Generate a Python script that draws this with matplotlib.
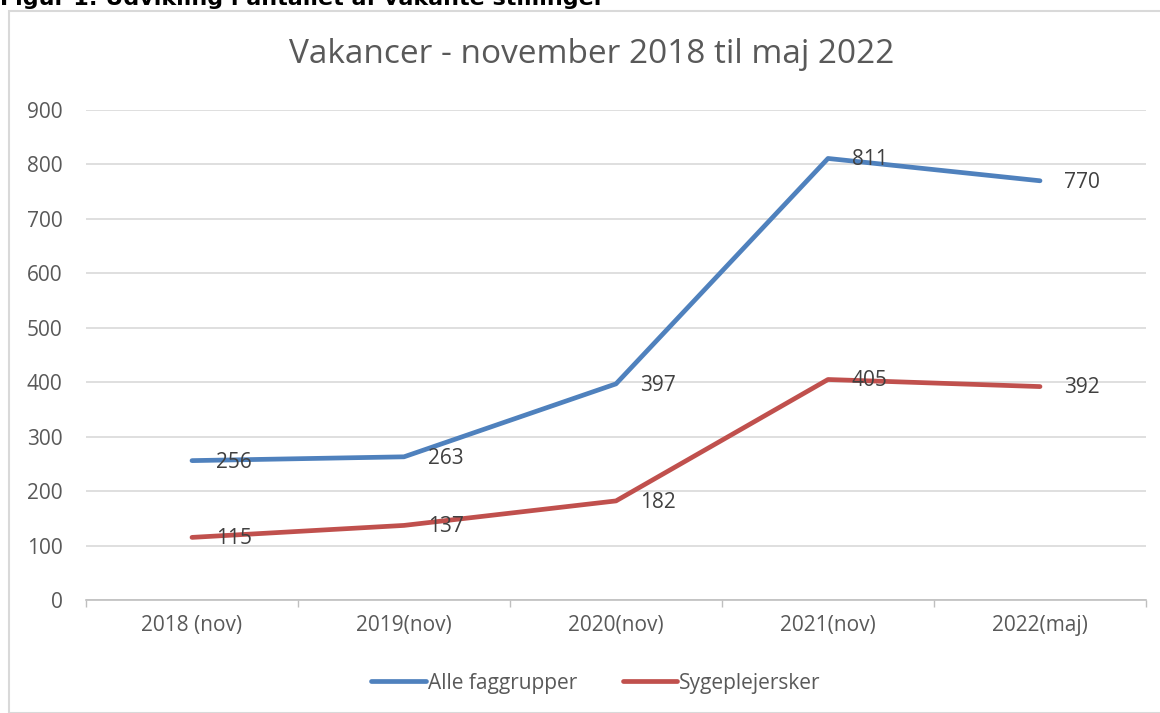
import matplotlib
matplotlib.use("Agg")
import matplotlib.pyplot as plt
from matplotlib.patches import Rectangle

categories = ["2018 (nov)", "2019(nov)", "2020(nov)", "2021(nov)", "2022(maj)"]
alle = [256, 263, 397, 811, 770]
syge = [115, 137, 182, 405, 392]
series_names = ["Alle faggrupper", "Sygeplejersker"]
yticks = [0, 100, 200, 300, 400, 500, 600, 700, 800, 900]

FONT = ["Open Sans", "DejaVu Sans"]
plt.rcParams['font.family'] = FONT
GREY = "#595959"
BLUE = "#4F81BD"
RED = "#C0504D"

W, H = 1160, 713
fig = plt.figure(figsize=(W/100, H/100), dpi=100)

# outer chart frame
fig.patches.append(Rectangle((9/W, 0), (W-9)/W + 0.01, (H-11)/H, transform=fig.transFigure,
                             fill=False, edgecolor="#D9D9D9", linewidth=1.5, clip_on=False))

# heading (cropped at top edge as in the source)
fig.text(0.0, 1 - 5/H, "Figur 1: Udvikling i antallet af vakante stillinger",
         fontsize=16, fontweight="bold", family=["DejaVu Sans"], color="black",
         ha="left", va="baseline")

ax = fig.add_axes([86/W, (H-600)/H, (1146-86)/W, (600-110)/H])
x = list(range(len(categories)))
l1, = ax.plot(x, alle, color=BLUE, linewidth=3.4, solid_capstyle="round", label=series_names[0], zorder=3)
l2, = ax.plot(x, syge, color=RED, linewidth=3.4, solid_capstyle="round", label=series_names[1], zorder=3)

for vals in (alle, syge):
    for xi, v in zip(x, vals):
        ax.annotate(str(v), (xi, v), xytext=(17, -1), textcoords="offset points",
                    ha="left", va="center", fontsize=15, color="#404040", zorder=4)

ax.set_xlim(-0.5, len(categories) - 0.5)
ax.set_ylim(0, 900)
ax.set_yticks(yticks)
ax.set_yticklabels([str(t) for t in yticks], fontsize=15, color=GREY)
ax.tick_params(axis="y", length=0, pad=17)
ax.set_xticks(x)
ax.set_xticklabels(categories, fontsize=15, color=GREY)
ax.tick_params(axis="x", which="major", length=0, pad=11)
ax.set_xticks([i - 0.5 for i in range(len(categories) + 1)], minor=True)
ax.tick_params(axis="x", which="minor", length=5, color="#BFBFBF", width=1)
ax.grid(axis="y", color="#D9D9D9", linewidth=1.2)
ax.set_axisbelow(True)
for s in ("top", "right", "left"):
    ax.spines[s].set_visible(False)
ax.spines["bottom"].set_color("#BFBFBF")
ax.spines["bottom"].set_linewidth(1.2)

fig.text(592/W, 1 - 63/H, "Vakancer - november 2018 til maj 2022", fontsize=24,
         color=GREY, ha="center", va="baseline")

fig.legend(handles=[l1, l2], loc="center", bbox_to_anchor=(596/W, 1 - 683/H), ncol=2,
           frameon=False, fontsize=15, labelcolor=GREY, handlelength=2.6,
           handletextpad=0.1, columnspacing=2.2)

fig.savefig("out.png", dpi=100)
